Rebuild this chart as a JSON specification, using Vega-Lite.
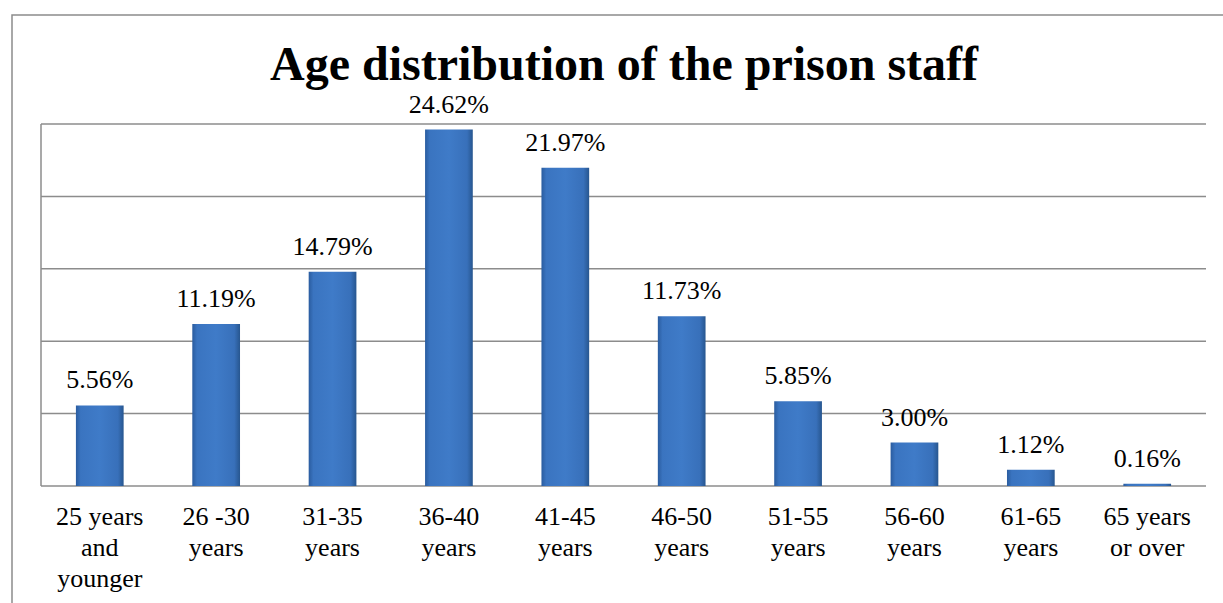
{
  "$schema": "https://vega.github.io/schema/vega-lite/v6.json",
  "width": 1240,
  "height": 600,
  "autosize": "none",
  "padding": {"left": 12, "top": 15, "right": 0, "bottom": 0},
  "background": "white",
  "title": {
    "text": "Age distribution of the prison staff",
    "font": "Liberation Serif",
    "fontSize": 48,
    "fontWeight": "bold",
    "color": "black",
    "anchor": "start",
    "baseline": "alphabetic",
    "offset": -113,
    "dx": 258
  },
  "config": {
    "view": {"stroke": "#8c8c8c", "strokeWidth": 1.5},
    "font": "Liberation Serif"
  },
  "resolve": {"scale": {"x": "independent"}},
  "layer": [
    {
      "data": {
        "values": [
          {"level": 0}, {"level": 0.05}, {"level": 0.1},
          {"level": 0.15}, {"level": 0.2}, {"level": 0.25}
        ]
      },
      "mark": {"type": "rule", "color": "#8c8c8c", "strokeWidth": 1.5},
      "encoding": {
        "y": {
          "field": "level",
          "type": "quantitative",
          "scale": {"domain": [0, 0.25], "range": [471, 109], "nice": false, "zero": false},
          "axis": null
        },
        "x": {
          "datum": 0,
          "type": "quantitative",
          "scale": {"domain": [0, 1], "range": [29, 1194], "nice": false, "zero": false},
          "axis": null
        },
        "x2": {"datum": 1}
      }
    },
    {
      "data": {"values": [{"from": 0, "to": 0.25}]},
      "mark": {"type": "rule", "color": "#8c8c8c", "strokeWidth": 1.5},
      "encoding": {
        "x": {
          "datum": 0,
          "type": "quantitative",
          "scale": {"domain": [0, 1], "range": [29, 1194], "nice": false, "zero": false},
          "axis": null
        },
        "y": {
          "field": "from",
          "type": "quantitative",
          "scale": {"domain": [0, 0.25], "range": [471, 109], "nice": false, "zero": false},
          "axis": null
        },
        "y2": {"field": "to"}
      }
    },
    {
      "data": {
        "values": [
          {"group": "25 years|and|younger", "share": 0.0556},
          {"group": "26 -30|years", "share": 0.1119},
          {"group": "31-35|years", "share": 0.1479},
          {"group": "36-40|years", "share": 0.2462},
          {"group": "41-45|years", "share": 0.2197},
          {"group": "46-50|years", "share": 0.1173},
          {"group": "51-55|years", "share": 0.0585},
          {"group": "56-60|years", "share": 0.0300},
          {"group": "61-65|years", "share": 0.0112},
          {"group": "65 years|or over", "share": 0.0016}
        ]
      },
      "encoding": {
        "x": {
          "field": "group",
          "type": "nominal",
          "sort": null,
          "scale": {"range": [29, 1194], "paddingInner": 0.59, "paddingOuter": 0.3},
          "axis": {
            "title": null,
            "offset": -129,
            "domain": false,
            "labelAngle": 0,
            "labelExpr": "split(datum.label, '|')",
            "labelFont": "Liberation Serif",
            "labelFontSize": 26,
            "labelLineHeight": 31,
            "labelColor": "black",
            "labelPadding": 17,
            "labelOverlap": false,
            "ticks": false,
            "labelBaseline": "top"
          }
        },
        "y": {
          "field": "share",
          "type": "quantitative",
          "scale": {"domain": [0, 0.25], "range": [471, 109], "nice": false, "zero": false},
          "axis": null
        }
      },
      "layer": [
        {
          "mark": {
            "type": "bar",
            "color": {
              "gradient": "linear",
              "x1": 0, "x2": 1, "y1": 0, "y2": 0,
              "stops": [
                {"offset": 0, "color": "#2a5c9f"},
                {"offset": 0.1, "color": "#3a74c0"},
                {"offset": 0.5, "color": "#3f7bc8"},
                {"offset": 0.88, "color": "#3870ba"},
                {"offset": 1, "color": "#27568f"}
              ]
            }
          }
        },
        {
          "mark": {
            "type": "text",
            "baseline": "alphabetic",
            "dy": -17,
            "fontSize": 26,
            "font": "Liberation Serif",
            "color": "black"
          },
          "encoding": {
            "text": {"field": "share", "type": "quantitative", "format": ".2%"}
          }
        }
      ]
    }
  ]
}
